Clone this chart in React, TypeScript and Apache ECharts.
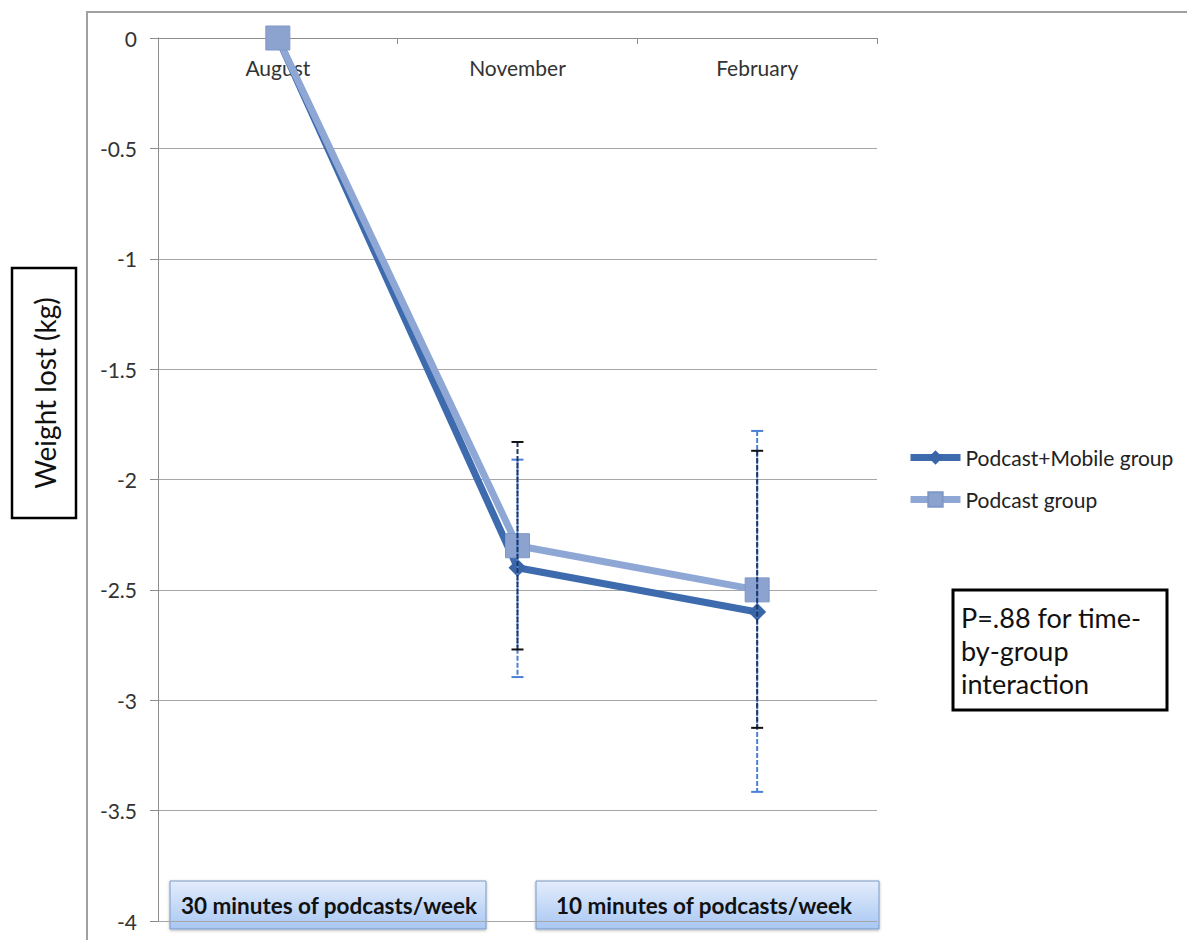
import React, { useEffect, useRef } from "react";
import * as echarts from "echarts";

const categories = ["August", "November", "February"];
const mobileValues = [0, -2.4, -2.6];
const podcastValues = [0, -2.3, -2.5];
// error bar ranges [categoryIndex, low, high]
const darkErrorBars = [
  [1, -2.77, -1.83],
  [2, -3.125, -1.87],
];
const lightErrorBars = [
  [1, -2.895, -1.91],
  [2, -3.415, -1.78],
];
const seriesNames = ["Podcast+Mobile group", "Podcast group"];
const periodLabels = ["30 minutes of podcasts/week", "10 minutes of podcasts/week"];
const noteLines = ["P=.88 for time-", "by-group", "interaction"];
const yTitle = "Weight lost (kg)";

const FONT = "Lato, 'Open Sans', sans-serif";

function errorRender(stroke: string, capStroke: string) {
  return (params: any, api: any) => {
    const x = api.value(0);
    const lo = api.value(1);
    const hi = api.value(2);
    const pHi = api.coord([x, hi]);
    const pLo = api.coord([x, lo]);
    const w = 6;
    return {
      type: "group",
      children: [
        {
          type: "line",
          shape: { x1: pHi[0], y1: pHi[1], x2: pLo[0], y2: pLo[1] },
          style: { stroke, lineWidth: 2, lineDash: [5, 2] },
        },
        {
          type: "line",
          shape: { x1: pHi[0] - w, y1: pHi[1], x2: pHi[0] + w, y2: pHi[1] },
          style: { stroke: capStroke, lineWidth: 2 },
        },
        {
          type: "line",
          shape: { x1: pLo[0] - w, y1: pLo[1], x2: pLo[0] + w, y2: pLo[1] },
          style: { stroke: capStroke, lineWidth: 2 },
        },
      ],
    };
  };
}

export default function App() {
  const ref = useRef<HTMLDivElement>(null);
  useEffect(() => {
    if (!ref.current) return;
    const chart = echarts.init(ref.current, undefined, { renderer: "svg" });
    const boxFill = new echarts.graphic.LinearGradient(0, 0, 0, 1, [
      { offset: 0, color: "#E3EDFC" },
      { offset: 1, color: "#A9C7F3" },
    ]);
    chart.setOption({
      animation: false,
      backgroundColor: "#ffffff",
      grid: { left: 158, right: 310, top: 38, bottom: 19, outerBoundsMode: "none" },
      legend: {
        data: seriesNames,
        orient: "vertical",
        left: 902,
        top: 442,
        itemWidth: 50,
        itemHeight: 18,
        itemGap: 21,
        lineStyle: { width: 7 },
        textStyle: { fontFamily: FONT, fontSize: 21, color: "#222" },
      },
      xAxis: {
        type: "category",
        data: categories,
        position: "top",
        axisLine: { onZero: false, lineStyle: { color: "#8C8C8C", width: 1 } },
        axisTick: { show: true, inside: true, length: 6, lineStyle: { color: "#8C8C8C" } },
        axisLabel: {
          inside: true,
          margin: 19,
          fontFamily: FONT,
          fontSize: 21,
          color: "#333",
        },
      },
      yAxis: {
        type: "value",
        min: -4,
        max: 0,
        interval: 0.5,
        axisLine: { show: true, lineStyle: { color: "#8C8C8C" } },
        axisTick: { show: true, length: 8, lineStyle: { color: "#8C8C8C" } },
        axisLabel: { margin: 21, fontFamily: FONT, fontSize: 21, color: "#333" },
        splitLine: { lineStyle: { color: "#A6A6A6", width: 1 } },
      },
      series: [
        {
          name: seriesNames[0],
          type: "line",
          data: mobileValues,
          symbol: "diamond",
          symbolSize: 18,
          lineStyle: { color: "#3E6BAE", width: 7 },
          itemStyle: { color: "#3A66A8" },
          z: 2,
        },
        {
          name: seriesNames[1],
          type: "line",
          data: podcastValues,
          symbol: "rect",
          symbolSize: 24,
          lineStyle: { color: "#8EA7D5", width: 7 },
          itemStyle: { color: "#8CA3D0", borderColor: "#7F97C6", borderWidth: 1 },
          z: 3,
        },
        {
          type: "custom",
          name: "lightErr",
          data: lightErrorBars,
          renderItem: errorRender("#4A80D6", "#4A80D6"),
          encode: { x: 0, y: [1, 2] },
          z: 4,
          silent: true,
        },
        {
          type: "custom",
          name: "darkErr",
          data: darkErrorBars,
          renderItem: errorRender("#1F3760", "#111111"),
          encode: { x: 0, y: [1, 2] },
          z: 5,
          silent: true,
        },
      ],
      graphic: [
        {
          type: "rect",
          shape: { x: 87, y: 12, width: 1200, height: 1000 },
          style: { fill: "none", stroke: "#A0A0A0", lineWidth: 2 },
          z: -10,
        },
        {
          type: "rect",
          shape: { x: 12, y: 268, width: 64, height: 250 },
          style: { fill: "#fff", stroke: "#000", lineWidth: 2.5 },
        },
        {
          type: "text",
          x: 45,
          y: 393,
          rotation: Math.PI / 2,
          style: {
            text: yTitle,
            fontFamily: FONT,
            fontSize: 28,
            fill: "#111",
            align: "center",
            verticalAlign: "middle",
          },
        },
        {
          type: "rect",
          shape: { x: 953, y: 590, width: 214, height: 120 },
          style: { fill: "#fff", stroke: "#000", lineWidth: 3 },
        },
        {
          type: "text",
          x: 961,
          y: 601,
          style: {
            text: noteLines.join("\n"),
            fontFamily: FONT,
            fontSize: 27,
            lineHeight: 33,
            fill: "#111",
            align: "left",
            verticalAlign: "top",
          },
        },
        {
          type: "rect",
          shape: { x: 170, y: 881, width: 316, height: 48 },
          style: {
            fill: boxFill,
            stroke: "#7D99C4",
            lineWidth: 1,
            shadowBlur: 3,
            shadowColor: "rgba(0,0,0,0.3)",
            shadowOffsetY: 1,
          },
        },
        {
          type: "text",
          x: 329,
          y: 905,
          style: {
            text: periodLabels[0],
            fontFamily: FONT,
            fontSize: 22.5,
            fontWeight: "bold",
            fill: "#111",
            align: "center",
            verticalAlign: "middle",
          },
        },
        {
          type: "rect",
          shape: { x: 536, y: 881, width: 343, height: 48 },
          style: {
            fill: boxFill,
            stroke: "#7D99C4",
            lineWidth: 1,
            shadowBlur: 3,
            shadowColor: "rgba(0,0,0,0.3)",
            shadowOffsetY: 1,
          },
        },
        {
          type: "text",
          x: 704,
          y: 905,
          style: {
            text: periodLabels[1],
            fontFamily: FONT,
            fontSize: 22.5,
            fontWeight: "bold",
            fill: "#111",
            align: "center",
            verticalAlign: "middle",
          },
        },
      ],
    });
    return () => chart.dispose();
  }, []);
  return (
    <div
      ref={ref}
      style={{ position: "fixed", left: 0, top: 0, width: 1187, height: 940 }}
    />
  );
}
